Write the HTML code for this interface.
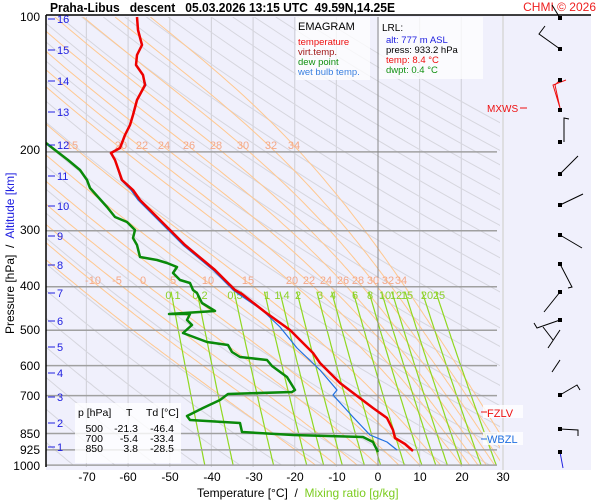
<!DOCTYPE html>
<html><head><meta charset="utf-8"><style>
html,body{margin:0;padding:0;background:#fff;}
svg{display:block;font-family:"Liberation Sans",Arial,sans-serif;}
text{white-space:pre;}
</style></head><body>
<svg id="s" width="600" height="500" viewBox="0 0 600 500" xmlns="http://www.w3.org/2000/svg">
<defs><clipPath id="pc"><rect x="46" y="17" width="454" height="450"/></clipPath></defs>
<rect x="46" y="15" width="545" height="455" fill="#f0f0fc"/>
<g id="grid" clip-path="url(#pc)"></g>
<line x1="503" y1="15" x2="503" y2="470" stroke="#d8d8d8" stroke-width="1.5"/>
<g stroke="#a0a0a0" stroke-width="1.5" id="plines"></g>
<line x1="378" y1="17" x2="378" y2="466" stroke="#888" stroke-width="1"/>
<g font-size="11" fill="#f4a888">
<text x="72" y="149" text-anchor="middle">15</text><text x="121" y="149" text-anchor="middle">20</text><text x="142" y="149" text-anchor="middle">22</text><text x="164" y="149" text-anchor="middle">24</text><text x="189" y="149" text-anchor="middle">26</text><text x="216" y="149" text-anchor="middle">28</text><text x="243" y="149" text-anchor="middle">30</text><text x="271" y="149" text-anchor="middle">32</text><text x="294" y="149" text-anchor="middle">34</text>
<text x="93" y="284" text-anchor="middle">-10</text><text x="117" y="284" text-anchor="middle">-5</text><text x="143" y="284" text-anchor="middle">0</text><text x="173" y="284" text-anchor="middle">5</text><text x="208" y="284" text-anchor="middle">10</text><text x="248" y="284" text-anchor="middle">15</text><text x="292" y="284" text-anchor="middle">20</text><text x="309" y="284" text-anchor="middle">22</text><text x="326" y="284" text-anchor="middle">24</text><text x="343" y="284" text-anchor="middle">26</text><text x="358" y="284" text-anchor="middle">28</text><text x="373" y="284" text-anchor="middle">30</text><text x="388" y="284" text-anchor="middle">32</text><text x="401" y="284" text-anchor="middle">34</text>
</g>
<g font-size="11" fill="#8cd02a" text-anchor="middle">
<text x="173" y="299">0.1</text><text x="200" y="299">0.2</text><text x="235" y="299">0.5</text><text x="267" y="299">1</text><text x="282" y="299">1.4</text><text x="298" y="299">2</text><text x="320" y="299">3</text><text x="333" y="299">4</text><text x="355" y="299">6</text><text x="370" y="299">8</text><text x="385" y="299">10</text><text x="396" y="299">12</text><text x="407" y="299">15</text><text x="427" y="299">20</text><text x="439" y="299">25</text>
</g>
<g fill="none" stroke-linejoin="round">
<polyline stroke="#1f6fe0" stroke-width="1.2" points="137,17 138,30 142,45 137,55 136,65 143,75 146,85 137,100 133,115 130,125 125,135 120,148 111,153 115,160 121,180 131,190 138,200 148,210 158,220 168,230 183,245 213,270 233,290 240,295 262,310 280,327 297,348 320,370 337,390 333,395 353,417 370,435 387,442 397,450"/>
<polyline stroke="#ee0000" stroke-width="2.5" points="137,17 138,30 142,45 137,55 136,65 143,75 145,85 137,100 133,115 130,125 125,135 120,148 111,153 115,160 122,180 133,190 140,200 150,210 160,220 170,230 185,245 215,270 235,290 242,294 265,312 290,330 313,353 320,363 340,383 373,408 387,418 393,430 395,438 405,444 413,451"/>
<polyline stroke="#0a8a0a" stroke-width="2.5" points="46,143 55,150 68,160 80,170 87,180 90,188 107,207 115,217 127,222 135,230 133,238 137,245 140,257 157,260 167,263 177,267 173,273 180,280 190,283 193,290 197,293 202,303 215,311 169,314 190,314 187,320 192,325 183,333 207,342 228,345 232,352 240,357 267,360 272,366 287,377 295,390 292,392 228,394 220,400 203,408 187,416 190,420 240,423 242,432 293,435 363,437 373,442 378,452"/>
</g>
<line x1="46" y1="15" x2="591" y2="15" stroke="#000" stroke-width="1.5"/>
<line x1="46" y1="15" x2="46" y2="467" stroke="#000" stroke-width="1.5"/>
<g font-size="12" text-anchor="end" fill="#000">
<text x="40" y="21">100</text><text x="40" y="154">200</text><text x="40" y="234">300</text><text x="40" y="290">400</text><text x="40" y="334">500</text><text x="40" y="370">600</text><text x="40" y="400">700</text><text x="40" y="438">850</text><text x="40" y="454">925</text><text x="40" y="470">1000</text>
</g>
<g font-size="11" fill="#2020e0" id="alt"></g>
<g font-size="12" text-anchor="middle" fill="#000">
<text x="87" y="481">-70</text><text x="128" y="481">-60</text><text x="170" y="481">-50</text><text x="212" y="481">-40</text><text x="254" y="481">-30</text><text x="295" y="481">-20</text><text x="337" y="481">-10</text><text x="378" y="481">0</text><text x="420" y="481">10</text><text x="462" y="481">20</text><text x="503" y="481">30</text>
</g>
<text x="197" y="497" font-size="12">Temperature [°C]  /  <tspan fill="#7ccc20">Mixing ratio [g/kg]</tspan></text>
<text transform="translate(14,334) rotate(-90)" font-size="12">Pressure [hPa]  /  <tspan fill="#2020e0">Altitude [km]</tspan></text>
<text x="50" y="12" font-size="13" font-weight="bold" textLength="345" lengthAdjust="spacingAndGlyphs">Praha-Libus   descent   05.03.2026 13:15 UTC  49.59N,14.25E</text>
<text x="596" y="11" font-size="12" fill="#ee2020" text-anchor="end">CHMI © 2026</text>
<rect x="296" y="17" width="74" height="63" fill="#fff" fill-opacity="0.75"/>
<text x="298" y="30" font-size="11">EMAGRAM</text>
<g font-size="9.5"><text x="298" y="45" fill="#ee1010">temperature</text><text x="298" y="55" fill="#a01818">virt.temp.</text><text x="298" y="65" fill="#109010">dew point</text><text x="298" y="75" fill="#3a80e0">wet bulb temp.</text></g>
<rect x="379" y="17" width="104" height="62" fill="#fff" fill-opacity="0.75"/>
<text x="382" y="31" font-size="10">LRL:</text>
<g font-size="9.5"><text x="386" y="43" fill="#2020e0">alt: 777 m ASL</text><text x="386" y="53">press: 933.2 hPa</text><text x="386" y="63" fill="#ee1010">temp: 8.4 °C</text><text x="386" y="73" fill="#109010">dwpt: 0.4 °C</text></g>
<rect x="75" y="403" width="106" height="60" fill="#fff" fill-opacity="0.8"/>
<g font-size="10.5"><text x="78" y="416">p [hPa]</text><text x="126" y="416">T</text><text x="146" y="416">Td [°C]</text></g>
<g font-size="10.5" text-anchor="end">
<text x="103" y="432">500</text><text x="138" y="432">-21.3</text><text x="174" y="432">-46.4</text>
<text x="103" y="442">700</text><text x="138" y="442">-5.4</text><text x="174" y="442">-33.4</text>
<text x="103" y="452">850</text><text x="138" y="452">3.8</text><text x="174" y="452">-28.5</text></g>
<rect x="483" y="405" width="40" height="13" fill="#fff" fill-opacity="0.8"/>
<line x1="481" y1="412" x2="487" y2="412" stroke="#ee1010"/><text x="487" y="417" font-size="11" fill="#ee1010">FZLV</text>
<rect x="483" y="432" width="40" height="13" fill="#fff" fill-opacity="0.8"/>
<line x1="481" y1="439" x2="487" y2="439" stroke="#2070e0"/><text x="487" y="443" font-size="11" fill="#2070e0">WBZL</text>
<text x="487" y="112" font-size="10" fill="#ee1010">MXWS</text><line x1="520" y1="108" x2="527" y2="108" stroke="#ee1010"/>
<g stroke="#000" stroke-width="1" fill="none">
<polyline points="552,5 560,18"/><polyline points="545,26 539,34 560,49"/>
<polyline points="564,142 564,118 569,119"/>
<polyline points="560,174 578,156"/><polyline points="560,205 583,194"/><polyline points="560,235 582,248"/>
<polyline points="560,264 572,287 568,288"/><polyline points="560,292 544,312"/>
<polyline points="560,320 537,328 534,323"/><polyline points="543,327 553,340"/>
<polyline points="560,330 548,348"/><polyline points="560,360 552,372"/>
<polyline points="560,395 577,385 580,390"/>
<polyline points="560,429 578,430 578,436"/>
</g>
<polyline points="560,80 555,85 560,108 553,85 566,80" stroke="#ee1010" fill="none"/>
<polyline points="560,452 563,468" stroke="#2020e0" fill="none"/>
<g fill="#000"><rect x="558" y="16" width="4" height="4"/><rect x="558" y="47" width="4" height="4"/><rect x="558" y="78" width="4" height="4"/><rect x="558" y="108" width="4" height="4"/><rect x="558" y="140" width="4" height="4"/><rect x="558" y="172" width="4" height="4"/><rect x="558" y="203" width="4" height="4"/><rect x="558" y="233" width="4" height="4"/><rect x="558" y="262" width="4" height="4"/><rect x="558" y="290" width="4" height="4"/><rect x="558" y="318" width="4" height="4"/><rect x="558" y="393" width="4" height="4"/><rect x="558" y="427" width="4" height="4"/><rect x="558" y="450" width="4" height="4"/></g>
</svg>
<script>
(function(){
var NS="http://www.w3.org/2000/svg";
function Y(p){return 17+194.6*Math.log(p/100);}
function X(t){return 378+4.165*t;}
var g=document.getElementById("grid");
function pl(pts,col,w){var e=document.createElementNS(NS,"polyline");e.setAttribute("points",pts.map(function(a){return a[0].toFixed(1)+","+a[1].toFixed(1)}).join(" "));e.setAttribute("stroke",col);e.setAttribute("stroke-width",w);e.setAttribute("fill","none");g.appendChild(e);}
for(var t=-80;t<=40;t+=10){if(t==0)continue;pl([[X(t),17],[X(t),467]],"#d4d4dc",1.2);}
for(var th=200;th<=500;th+=10){var a=[];for(var p=1000;p>=100;p-=10){a.push([X(th*Math.pow(p/1000,0.2857)-273.15),Y(p)]);}pl(a,"#d6d6de",1);}
var ths=[-15,-10,-5,0,5,10,15,20,22,24,26,28,30,32,34];
ths.forEach(function(tw){var T=tw+273.15,a=[];for(var p=1000;p>=100;p-=5){a.push([X(T-273.15),Y(p)]);var tc=T-273.15;var es=6.112*Math.exp(17.67*tc/(tc+243.5));var rs=0.622*es/(p-es);var L=2.5e6,Rd=287,cp=1004;var dTdp=(1/p)*(Rd*T+L*rs)/(cp+L*L*rs*0.622/(Rd*T*T));T-=dTdp*5;}pl(a,"#ffc890",1);});
[0.1,0.2,0.5,1,1.4,2,3,4,6,8,10,12,15,20,25].forEach(function(w){var a=[];for(var p=1000;p>=410;p-=10){var e=w*p/(622+w);var l=Math.log(e/6.112);a.push([X(243.5*l/(17.67-l)),Y(p)]);}pl(a,"#90d820",1.2);});
var pg=document.getElementById("plines");
[200,300,400,500,600,700,850,925,1000].forEach(function(p){var e=document.createElementNS(NS,"line");e.setAttribute("x1",46);e.setAttribute("x2",497);e.setAttribute("y1",Y(p));e.setAttribute("y2",Y(p));pg.appendChild(e);});
var ag=document.getElementById("alt");var ys=[447,423,397,373,347,321,293,265,236,206,176,145,112,81,50,19];
ys.forEach(function(y,i){var l=document.createElementNS(NS,"line");l.setAttribute("x1",48);l.setAttribute("x2",55);l.setAttribute("y1",y);l.setAttribute("y2",y);l.setAttribute("stroke","#2020e0");ag.appendChild(l);var t=document.createElementNS(NS,"text");t.setAttribute("x",57);t.setAttribute("y",y+4);t.textContent=(i+1);ag.appendChild(t);});
})();
</script>
</body></html>
